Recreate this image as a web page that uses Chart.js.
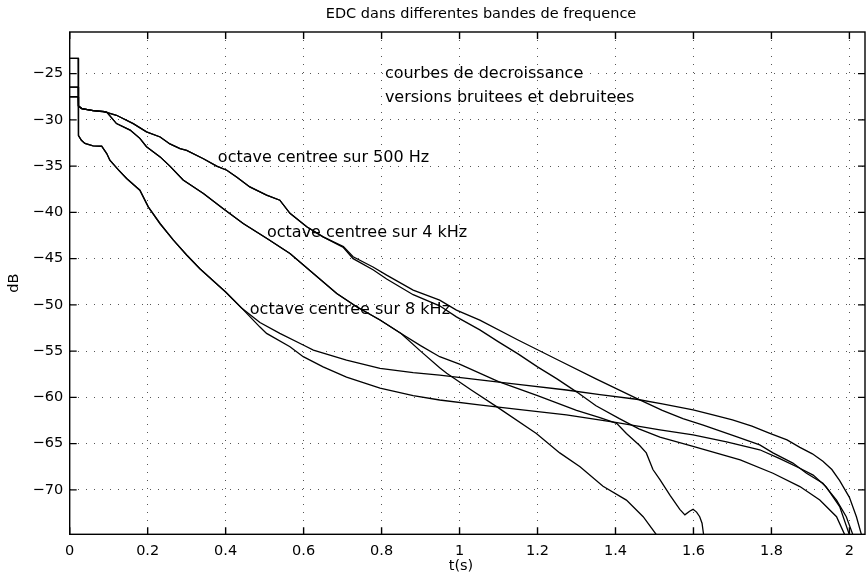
<!DOCTYPE html>
<html lang="fr">
<head>
    <meta charset="UTF-8">
    <title>EDC dans differentes bandes de frequence</title>
    <script src="https://cdn.jsdelivr.net/npm/chart.js"></script>
    <style>
        body{
            margin: 0;
            background-color: white;
        }
        canvas{
            display: block;
        }
    </style>
</head>
<body>

<canvas id="edcChart" width="866" height="575"></canvas>

<script>
    // axes
    const xTicks = [0, 0.2, 0.4, 0.6, 0.8, 1, 1.2, 1.4, 1.6, 1.8, 2];
    const yTicks = [-70, -65, -60, -55, -50, -45, -40, -35, -30, -25];

    // octave 500 Hz : debut commun puis deux versions
    const t500Start = [0, 0.022, 0.0225, 0.031, 0.06, 0.086];
    const db500Start = [-26.45, -26.45, -28.5, -28.78, -29.0, -29.07];
    const t500 = [0.12, 0.163, 0.197, 0.232, 0.257, 0.283, 0.30, 0.343, 0.377, 0.403, 0.428, 0.462, 0.505, 0.539, 0.565, 0.608, 0.65];
    const db500 = [-29.5, -30.4, -31.3, -31.85, -32.6, -33.1, -33.3, -34.2, -35.0, -35.44, -36.17, -37.25, -38.14, -38.68, -40.1, -41.56, -42.65];
    const t500Up = [0.702, 0.727, 0.778, 0.813, 0.881, 0.949, 0.992, 1.052, 1.15, 1.25, 1.35, 1.454, 1.52, 1.573, 1.625, 1.71, 1.77, 1.804, 1.855, 1.89, 1.932, 1.967, 1.992, 2.009, 2.012];
    const db500Up = [-43.7, -44.8, -45.9, -46.78, -48.4, -49.48, -50.56, -51.64, -53.8, -55.9, -58.0, -60.1, -61.4, -62.3, -63.0, -64.24, -65.14, -66.0, -67.1, -68.2, -69.28, -71.1, -72.9, -74.85, -77];
    const t500Lo = [0.702, 0.727, 0.778, 0.813, 0.881, 0.949, 0.992, 1.052, 1.1, 1.15, 1.2, 1.25, 1.3, 1.35, 1.41, 1.46, 1.514, 1.599, 1.72, 1.804, 1.873, 1.924, 1.967, 1.988, 1.99];
    const db500Lo = [-43.8, -45.0, -46.2, -47.2, -48.9, -50.1, -51.3, -52.7, -54.0, -55.3, -56.7, -58.0, -59.4, -60.9, -62.3, -63.4, -64.3, -65.3, -66.76, -68.2, -69.64, -71.1, -72.9, -74.85, -77];

    // octave 4 kHz
    const t4kStart = [0, 0.022, 0.0225, 0.031, 0.06, 0.095];
    const db4kStart = [-27.5, -27.5, -28.5, -28.78, -29.0, -29.15];
    const t4k = [0.12, 0.155, 0.18, 0.197, 0.232, 0.257, 0.291, 0.343, 0.394, 0.445, 0.505, 0.565, 0.625, 0.685, 0.736, 0.796, 0.85];
    const db4k = [-30.4, -31.1, -32.0, -32.9, -34.0, -35.0, -36.5, -37.96, -39.6, -41.2, -42.8, -44.44, -46.6, -48.76, -50.2, -51.64, -53.1];
    const t4kA = [0.9, 0.949, 1.0, 1.1, 1.2, 1.3, 1.36, 1.403, 1.428, 1.462, 1.479, 1.496, 1.514, 1.54, 1.565, 1.578, 1.59, 1.599, 1.608, 1.616, 1.622, 1.626, 1.628];
    const db4kA = [-54.4, -55.6, -56.4, -58.3, -59.8, -61.4, -62.2, -62.8, -63.9, -65.2, -66.0, -67.8, -68.9, -70.6, -72.1, -72.7, -72.3, -72.1, -72.4, -72.9, -73.6, -74.85, -77];
    const t4kB = [0.9, 0.949, 0.967, 1.03, 1.095, 1.197, 1.257, 1.309, 1.368, 1.428, 1.471, 1.505, 1.507];
    const db4kB = [-55.0, -56.8, -57.4, -59.2, -61.0, -63.9, -66.0, -67.5, -69.6, -71.1, -72.9, -74.85, -77];

    // octave 8 kHz
    const t8k = [0, 0.022, 0.0225, 0.03, 0.039, 0.06, 0.082, 0.095, 0.103, 0.125, 0.146, 0.18, 0.2015, 0.2315, 0.266, 0.30, 0.334, 0.368, 0.40, 0.44];
    const db8k = [-23.35, -23.35, -31.7, -32.2, -32.55, -32.8, -32.85, -33.64, -34.36, -35.4, -36.34, -37.6, -39.4, -41.2, -43.0, -44.6, -46.1, -47.4, -48.6, -50.3];
    const t8kUp = [0.488, 0.539, 0.599, 0.625, 0.71, 0.796, 0.881, 0.949, 1.052, 1.15, 1.274, 1.36, 1.454, 1.52, 1.599, 1.65, 1.70, 1.75, 1.796, 1.84, 1.873, 1.905, 1.932, 1.955, 1.975, 2.0, 2.018, 2.031, 2.033];
    const db8kUp = [-51.9, -53.08, -54.34, -54.88, -55.96, -56.86, -57.33, -57.6, -58.1, -58.6, -59.2, -59.7, -60.2, -60.7, -61.36, -61.9, -62.44, -63.1, -63.88, -64.6, -65.4, -66.1, -66.9, -67.8, -69.0, -70.8, -72.9, -74.85, -77];
    const t8kLo = [0.488, 0.505, 0.565, 0.599, 0.65, 0.71, 0.796, 0.881, 0.949, 1.05, 1.15, 1.274, 1.4, 1.514, 1.599, 1.685, 1.77, 1.82, 1.873, 1.907, 1.94, 1.975, 2.0, 2.002];
    const db8kLo = [-52.4, -53.08, -54.52, -55.6, -56.7, -57.8, -59.0, -59.8, -60.28, -60.8, -61.3, -61.9, -62.7, -63.5, -64.06, -64.8, -65.66, -66.6, -67.66, -68.4, -69.64, -71.8, -74.85, -77];

    // textes dans le graphe (position en t, dB)
    const notes = [
        {text: 'courbes de decroissance', t: 0.8085, db: -25.0},
        {text: 'versions bruitees et debruitees', t: 0.8085, db: -27.6},
        {text: 'octave centree sur 500 Hz', t: 0.380, db: -34.15},
        {text: 'octave centree sur 4 kHz', t: 0.506, db: -42.25},
        {text: 'octave centree sur 8 kHz', t: 0.462, db: -50.5}
    ];

    function toPoints(ts, dbs) {
        return ts.map((t, i) => ({x: t, y: dbs[i]}));
    }

    function curve(parts) {
        let pts = [];
        parts.forEach(p => { pts = pts.concat(toPoints(p[0], p[1])); });
        return {
            data: pts,
            borderColor: '#000',
            borderWidth: 1.3,
            pointRadius: 0,
            fill: false,
            tension: 0
        };
    }

    const datasets = [
        curve([[t500Start, db500Start], [t500, db500], [t500Up, db500Up]]),
        curve([[t500Start, db500Start], [t500, db500], [t500Lo, db500Lo]]),
        curve([[t4kStart, db4kStart], [t4k, db4k], [t4kA, db4kA]]),
        curve([[t4kStart, db4kStart], [t4k, db4k], [t4kB, db4kB]]),
        curve([[t8k, db8k], [t8kUp, db8kUp]]),
        curve([[t8k, db8k], [t8kLo, db8kLo]])
    ];

    const tickFont = {family: 'DejaVu Sans', size: 14.5};

    // cadre, graduations interieures et textes facon matlab
    const frame = {
        id: 'frame',
        afterDraw(chart) {
            const {ctx, chartArea: a, scales: {x, y}} = chart;
            ctx.save();
            ctx.strokeStyle = '#000';
            ctx.lineWidth = 1.4;
            ctx.strokeRect(a.left, a.top, a.right - a.left, a.bottom - a.top);
            ctx.beginPath();
            x.ticks.forEach(t => {
                const px = x.getPixelForValue(t.value);
                ctx.moveTo(px, a.bottom); ctx.lineTo(px, a.bottom - 7);
                ctx.moveTo(px, a.top); ctx.lineTo(px, a.top + 7);
            });
            y.ticks.forEach(t => {
                const py = y.getPixelForValue(t.value);
                ctx.moveTo(a.left, py); ctx.lineTo(a.left + 7, py);
                ctx.moveTo(a.right, py); ctx.lineTo(a.right - 7, py);
            });
            ctx.stroke();

            ctx.fillStyle = '#000';
            ctx.textBaseline = 'middle';
            ctx.font = '16px "DejaVu Sans"';
            ctx.textAlign = 'left';
            notes.forEach(n => {
                ctx.fillText(n.text, x.getPixelForValue(n.t), y.getPixelForValue(n.db));
            });

            ctx.font = '14.5px "DejaVu Sans"';
            ctx.textAlign = 'center';
            ctx.fillText('EDC dans differentes bandes de frequence', 481, 14);
            ctx.fillText('t(s)', 461, 566);
            ctx.translate(14, (a.top + a.bottom) / 2);
            ctx.rotate(-Math.PI / 2);
            ctx.fillText('dB', 0, 0);
            ctx.restore();
        }
    };

    new Chart(document.getElementById('edcChart'), {
        type: 'line',
        data: {datasets: datasets},
        options: {
            responsive: false,
            animation: false,
            layout: {padding: {left: 29.7, right: 1, top: 32, bottom: 15.7}},
            plugins: {
                legend: {display: false},
                tooltip: {enabled: false},
                title: {display: false}
            },
            scales: {
                x: {
                    type: 'linear',
                    min: 0,
                    max: 2.04,
                    afterBuildTicks: s => { s.ticks = xTicks.map(v => ({value: v})); },
                    afterFit: s => { s.height = 25; },
                    grid: {color: '#555', lineWidth: 1, drawTicks: false},
                    border: {display: false, dash: [1, 7]},
                    ticks: {
                        padding: 8,
                        color: '#000',
                        font: tickFont,
                        maxRotation: 0,
                        autoSkip: false,
                        callback: v => String(Math.round(v * 10) / 10)
                    }
                },
                y: {
                    type: 'linear',
                    min: -74.8,
                    max: -20.5,
                    afterBuildTicks: s => { s.ticks = yTicks.map(v => ({value: v})); },
                    afterFit: s => { s.width = 40; },
                    grid: {color: '#555', lineWidth: 1, drawTicks: false},
                    border: {display: false, dash: [1, 7]},
                    ticks: {
                        padding: 6.5,
                        color: '#000',
                        font: tickFont,
                        autoSkip: false,
                        callback: v => String(v).replace('-', '\u2212')
                    }
                }
            }
        },
        plugins: [frame]
    });
</script>
</body>
</html>
